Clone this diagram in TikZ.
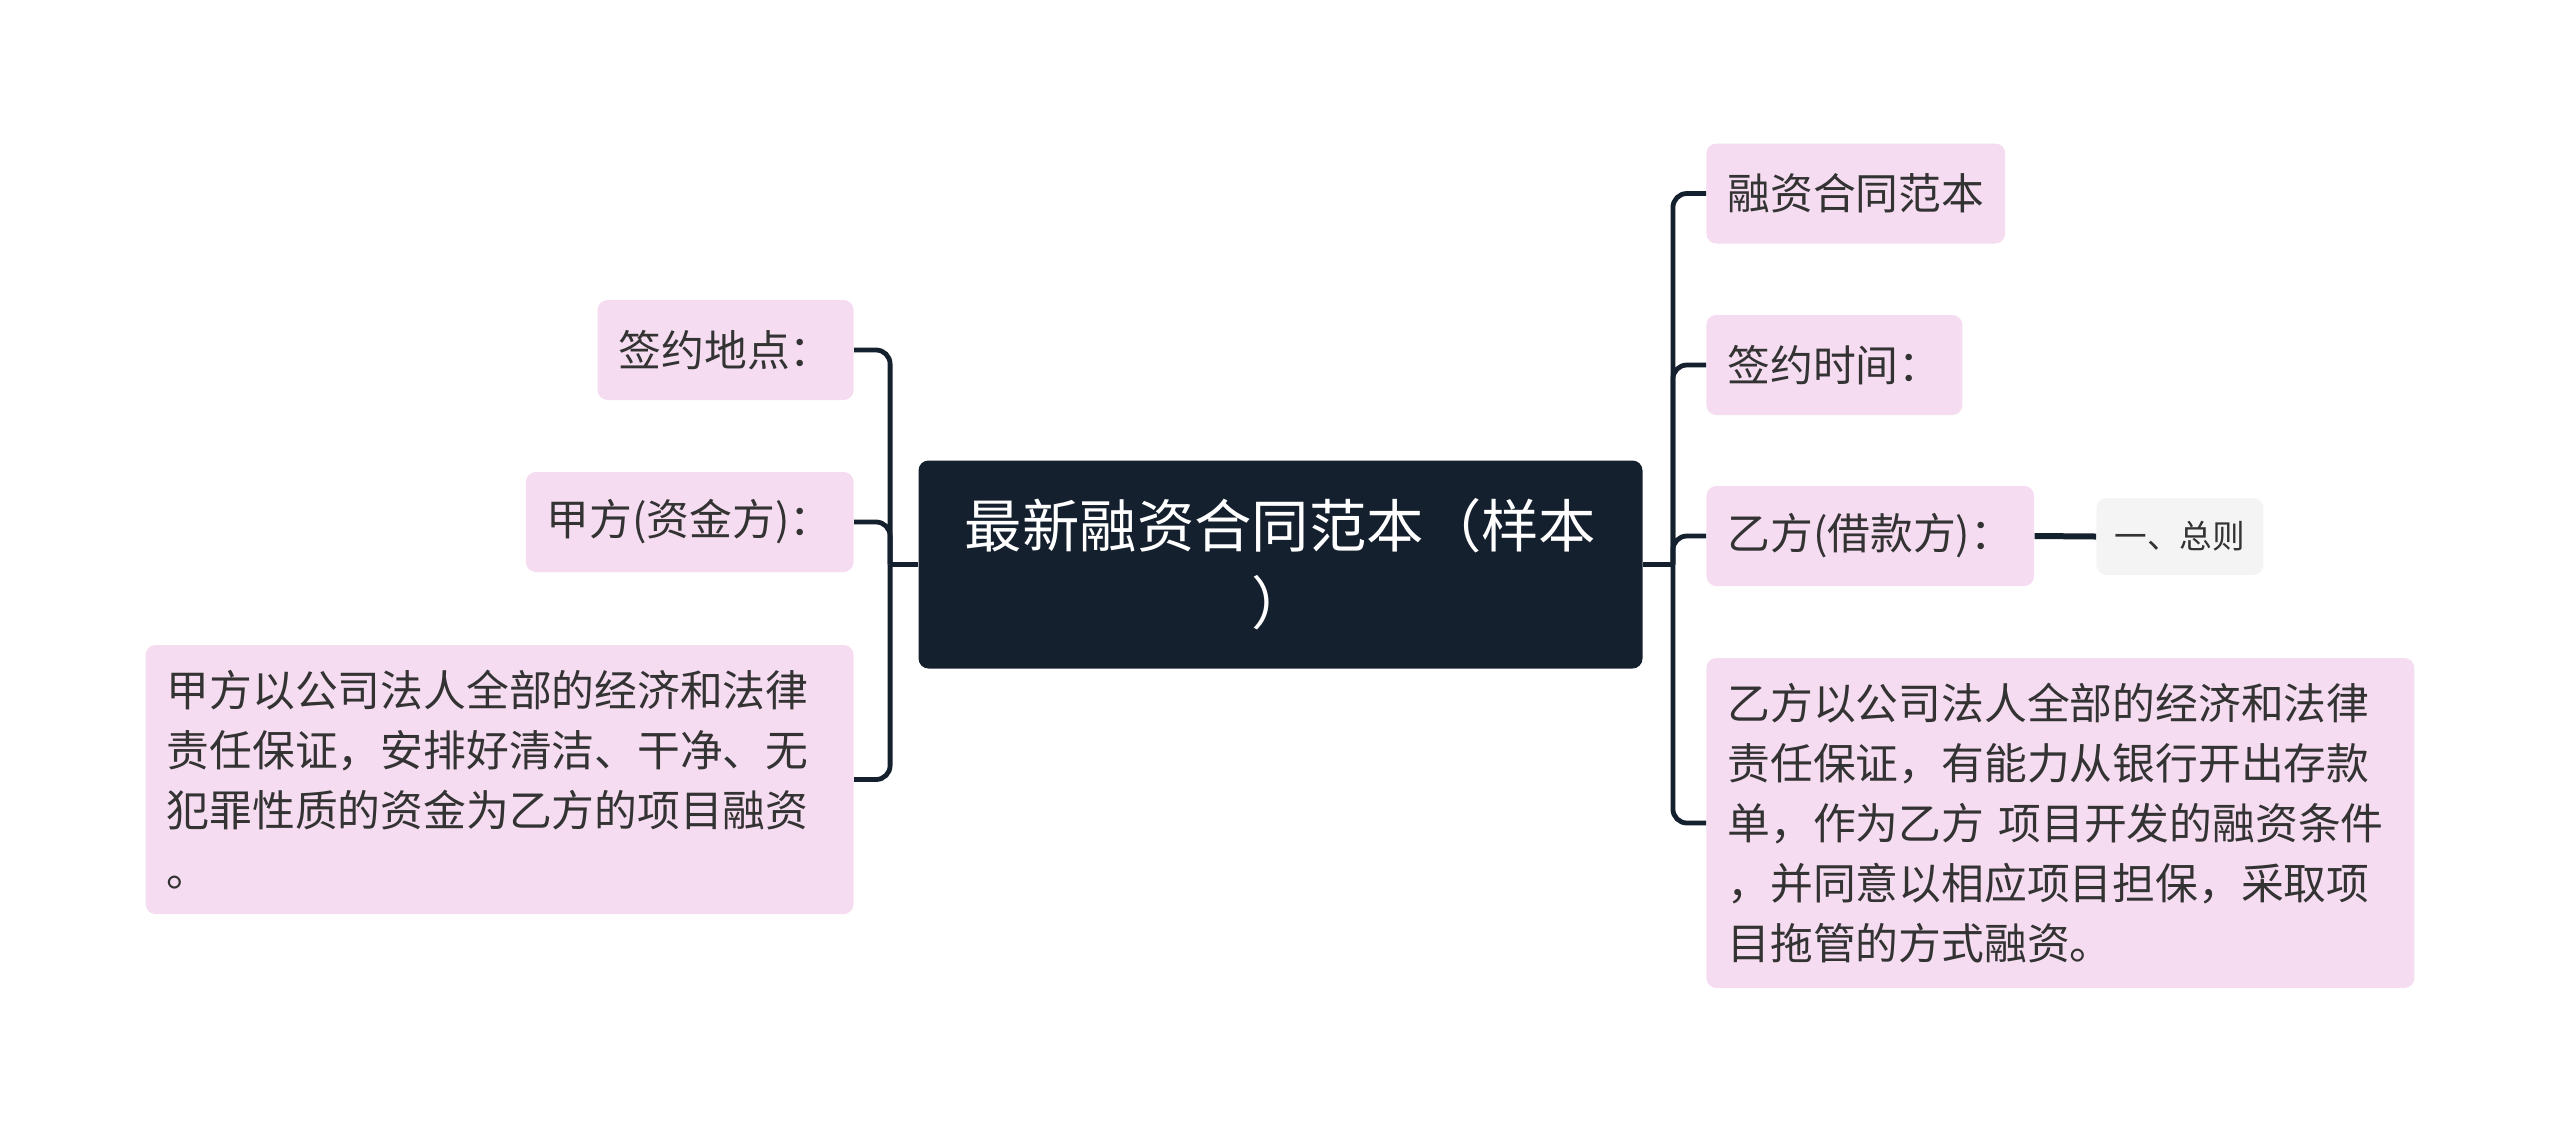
\documentclass[tikz,border=0pt]{standalone}
\usepackage{fontspec}
\setmainfont{Noto Sans CJK SC}
\definecolor{ink}{HTML}{15202E}
\definecolor{pinkbg}{HTML}{F5DCF0}
\definecolor{greybg}{HTML}{F4F4F4}
\definecolor{leaftext}{HTML}{333333}

\begin{document}
\begin{tikzpicture}[x=0.5pt,y=-0.5pt,
  root/.style={fill=ink,text=white,rounded corners=5pt,minimum width=362pt,minimum height=104pt,
    align=center,font=\fontsize{28.7pt}{38.4pt}\selectfont},
  leaf/.style={fill=pinkbg,text=leaftext,rounded corners=5pt,minimum height=50pt,inner xsep=10.5pt,
    font=\fontsize{21.4pt}{30pt}\selectfont},
  note/.style={text width=333pt,align=left,inner ysep=12.5pt},
  sub/.style={fill=greybg,text=leaftext,rounded corners=5pt,minimum width=83.5pt,minimum height=38.5pt,
    font=\fontsize{16.3pt}{20pt}\selectfont},
  link/.style={draw=ink,line width=2.4pt,rounded corners=7pt}]
  \useasboundingbox (0,0) rectangle (2560,1132);

  \node[root] (root) at (1280.5,564.5) {最新融资合同范本（样本\\）};

  % left side
  \node[leaf,anchor=east] (place) at (854,350) {签约地点：};
  \node[leaf,anchor=east] (partya) at (854,522) {甲方(资金方)：};
  \node[leaf,note,anchor=east] (partyatext) at (854,779.5)
    {甲方以公司法人全部的经济和法律\\责任保证，安排好清洁、干净、无\\犯罪性质的资金为乙方的项目融资\\。};

  % right side
  \node[leaf,anchor=west] (title) at (1706,193.5) {融资合同范本};
  \node[leaf,anchor=west] (time) at (1706,365) {签约时间：};
  \node[leaf,anchor=west] (partyb) at (1706,536) {乙方(借款方)：};
  \node[leaf,note,anchor=west] (partybtext) at (1706,823)
    {乙方以公司法人全部的经济和法律\\责任保证，有能力从银行开出存款\\单，作为乙方 项目开发的融资条件\\，并同意以相应项目担保，采取项\\目拖管的方式融资。};
  \node[sub,anchor=west] (general) at (2096,536.5) {一、总则};

  \draw[link] (root.west) -- ++(-28,0) coordinate (lj);
  \draw[link] (root.east) -- ++(30,0) coordinate (rj);
  \foreach \n in {place,partya,partyatext}{
    \draw[link] (lj) |- (\n.east);
  }
  \foreach \n in {title,time,partyb,partybtext}{
    \draw[link] (rj) |- (\n.west);
  }
  \draw[link,line width=3pt] (partyb.east) -- (general.west);
\end{tikzpicture}
\end{document}
